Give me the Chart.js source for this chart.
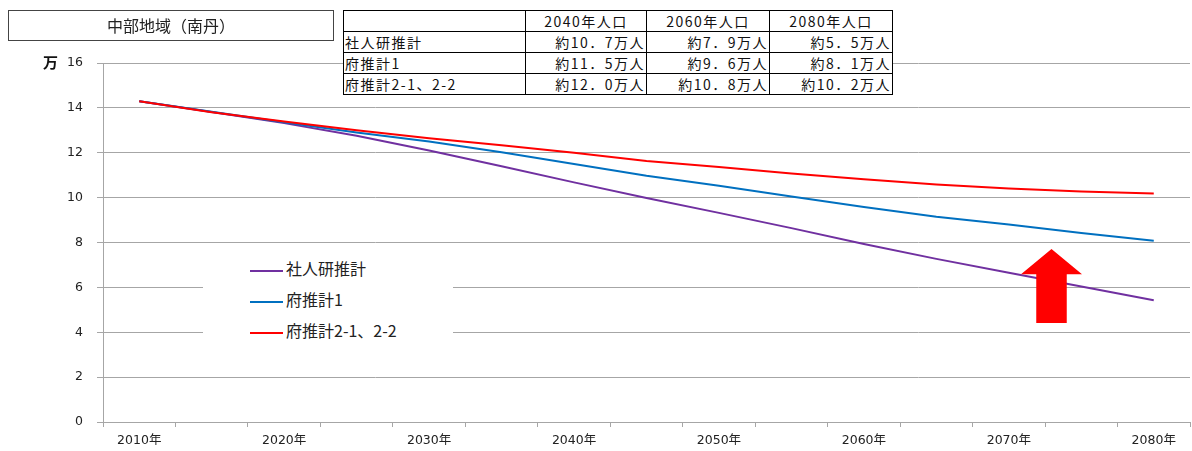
<!DOCTYPE html>
<html lang="ja">
<head>
    <meta charset="UTF-8">
    <title>中部地域（南丹）</title>
    <script src="https://cdn.jsdelivr.net/npm/chart.js"></script>
    <style>
        body {
            margin: 0;
            background: #fff;
            font-family: "Noto Sans CJK JP", "Liberation Sans", sans-serif;
        }

        #wrap {
            position: relative;
            width: 1192px;
            height: 451px;
        }

        #title {
            position: absolute;
            left: 8px;
            top: 10px;
            width: 324px;
            height: 29px;
            border: 1.5px solid #444;
            font-size: 16px;
            line-height: 29px;
            text-align: center;
            color: #222;
        }

        #unit {
            position: absolute;
            left: 43px;
            top: 52px;
            font-size: 15px;
            font-weight: bold;
            line-height: 20px;
            color: #111;
        }

        /* summary table over the top gridline */
        #summary {
            position: absolute;
            left: 343px;
            top: 10px;
            border-collapse: collapse;
            background: #fff;
            font-size: 14px;
            letter-spacing: 1.5px;
            color: #111;
        }

        #summary td {
            border: 1px solid #000;
            height: 20px;
            padding: 0 1px;
            line-height: 20px;
            white-space: nowrap;
        }

        #summary td.num { text-align: right; }
        #summary td.head { text-align: center; }

        #legend {
            position: absolute;
            left: 203px;
            top: 252px;
            width: 250px;
            height: 94px;
            background: #fff;
        }

        .item {
            position: absolute;
            left: 47px;
            height: 20px;
            font-size: 16px;
            line-height: 20px;
            color: #222;
        }

        .item span {
            display: inline-block;
            width: 33px;
            height: 2px;
            margin-right: 3px;
            vertical-align: middle;
        }

        #arrow {
            position: absolute;
            left: 1021px;
            top: 249px;
            width: 61px;
            height: 74px;
            background: #ff0000;
            clip-path: polygon(50% 0, 100% 34%, 75% 34%, 75% 100%, 25% 100%, 25% 34%, 0 34%);
        }
    </style>
</head>
<body>
<div id="wrap">
    <canvas id="chart" width="1192" height="451"></canvas>
    <div id="title">中部地域（南丹）</div>
    <div id="unit">万</div>
    <table id="summary"></table>
    <div id="legend"></div>
    <div id="arrow"></div>
</div>

<script>
    // years on the category axis (every 5 years, label every 10)
    const years = [2010, 2015, 2020, 2025, 2030, 2035, 2040, 2045, 2050, 2055, 2060, 2065, 2070, 2075, 2080];

    const seriesNames = ['社人研推計', '府推計1', '府推計2-1、2-2'];
    const seriesColors = ['#7030a0', '#0070c0', '#ff0000'];

    // population, 万人
    const shajinken = [14.3, 13.82, 13.32, 12.76, 12.1, 11.4, 10.68, 9.98, 9.32, 8.64, 7.93, 7.27, 6.65, 6.04, 5.43];
    const fu1 = [14.3, 13.83, 13.36, 12.9, 12.5, 12.02, 11.5, 10.97, 10.53, 10.05, 9.58, 9.15, 8.8, 8.42, 8.08];
    const fu2 = [14.3, 13.81, 13.39, 13.0, 12.65, 12.33, 12.0, 11.63, 11.36, 11.08, 10.82, 10.58, 10.41, 10.27, 10.18];

    const yTicks = { min: 0, max: 16, step: 2 };

    // table in the top right
    const tableHead = ['', '2040年人口', '2060年人口', '2080年人口'];
    const tableRows = [
        ['社人研推計', '約10．7万人', '約7．9万人', '約5．5万人'],
        ['府推計1', '約11．5万人', '約9．6万人', '約8．1万人'],
        ['府推計2-1、2-2', '約12．0万人', '約10．8万人', '約10．2万人']
    ];
    const colWidths = [179, 118, 120, 120];

    const gray = '#a6a6a6';

    // build the table
    const table = document.getElementById('summary');
    let html = '<tr>';
    tableHead.forEach((h, i) => {
        html += `<td class="head" style="width:${colWidths[i]}px">${h}</td>`;
    });
    html += '</tr>';
    tableRows.forEach(row => {
        html += '<tr>';
        row.forEach((c, i) => {
            html += `<td class="${i ? 'num' : ''}">${c}</td>`;
        });
        html += '</tr>';
    });
    table.innerHTML = html;

    const seriesData = [shajinken, fu1, fu2];

    // legend box
    const legend = document.getElementById('legend');
    seriesNames.forEach((name, i) => {
        const div = document.createElement('div');
        div.className = 'item';
        div.style.top = (6 + i * 31) + 'px';
        div.innerHTML = `<span style="background:${seriesColors[i]}"></span>${name}`;
        legend.appendChild(div);
    });

    const tickFont = { family: '"DejaVu Sans", "Noto Sans CJK JP", sans-serif', size: 12.5 };

    new Chart(document.getElementById('chart'), {
        type: 'line',
        data: {
            labels: years,
            datasets: seriesNames.map((name, i) => ({
                label: name,
                data: seriesData[i],
                borderColor: seriesColors[i],
                backgroundColor: seriesColors[i],
                borderWidth: 2,
                pointRadius: 0,
                tension: 0,
                fill: false,
                order: 2 - i
            }))
        },
        options: {
            responsive: false,
            animation: false,
            devicePixelRatio: 1,
            layout: {
                padding: { top: 63, right: 2, left: 0, bottom: 0 }
            },
            plugins: {
                legend: { display: false },
                tooltip: { enabled: false }
            },
            scales: {
                x: {
                    offset: true,
                    grid: {
                        offset: true,
                        drawOnChartArea: false,
                        tickLength: 5,
                        color: gray
                    },
                    border: { color: gray },
                    ticks: {
                        autoSkip: false,
                        maxRotation: 0,
                        padding: 6,
                        color: '#222',
                        font: tickFont,
                        callback: function(value, index) {
                            const y = years[index];
                            return y % 10 === 0 ? y + '年' : '';
                        }
                    },
                    afterFit: scale => { scale.height = 29; }
                },
                y: {
                    min: yTicks.min,
                    max: yTicks.max,
                    grid: {
                        color: gray,
                        tickLength: 6
                    },
                    border: { color: gray },
                    ticks: {
                        stepSize: yTicks.step,
                        padding: 14,
                        color: '#222',
                        font: tickFont
                    },
                    afterFit: scale => { scale.width = 103; }
                }
            }
        }
    });
</script>
</body>
</html>
